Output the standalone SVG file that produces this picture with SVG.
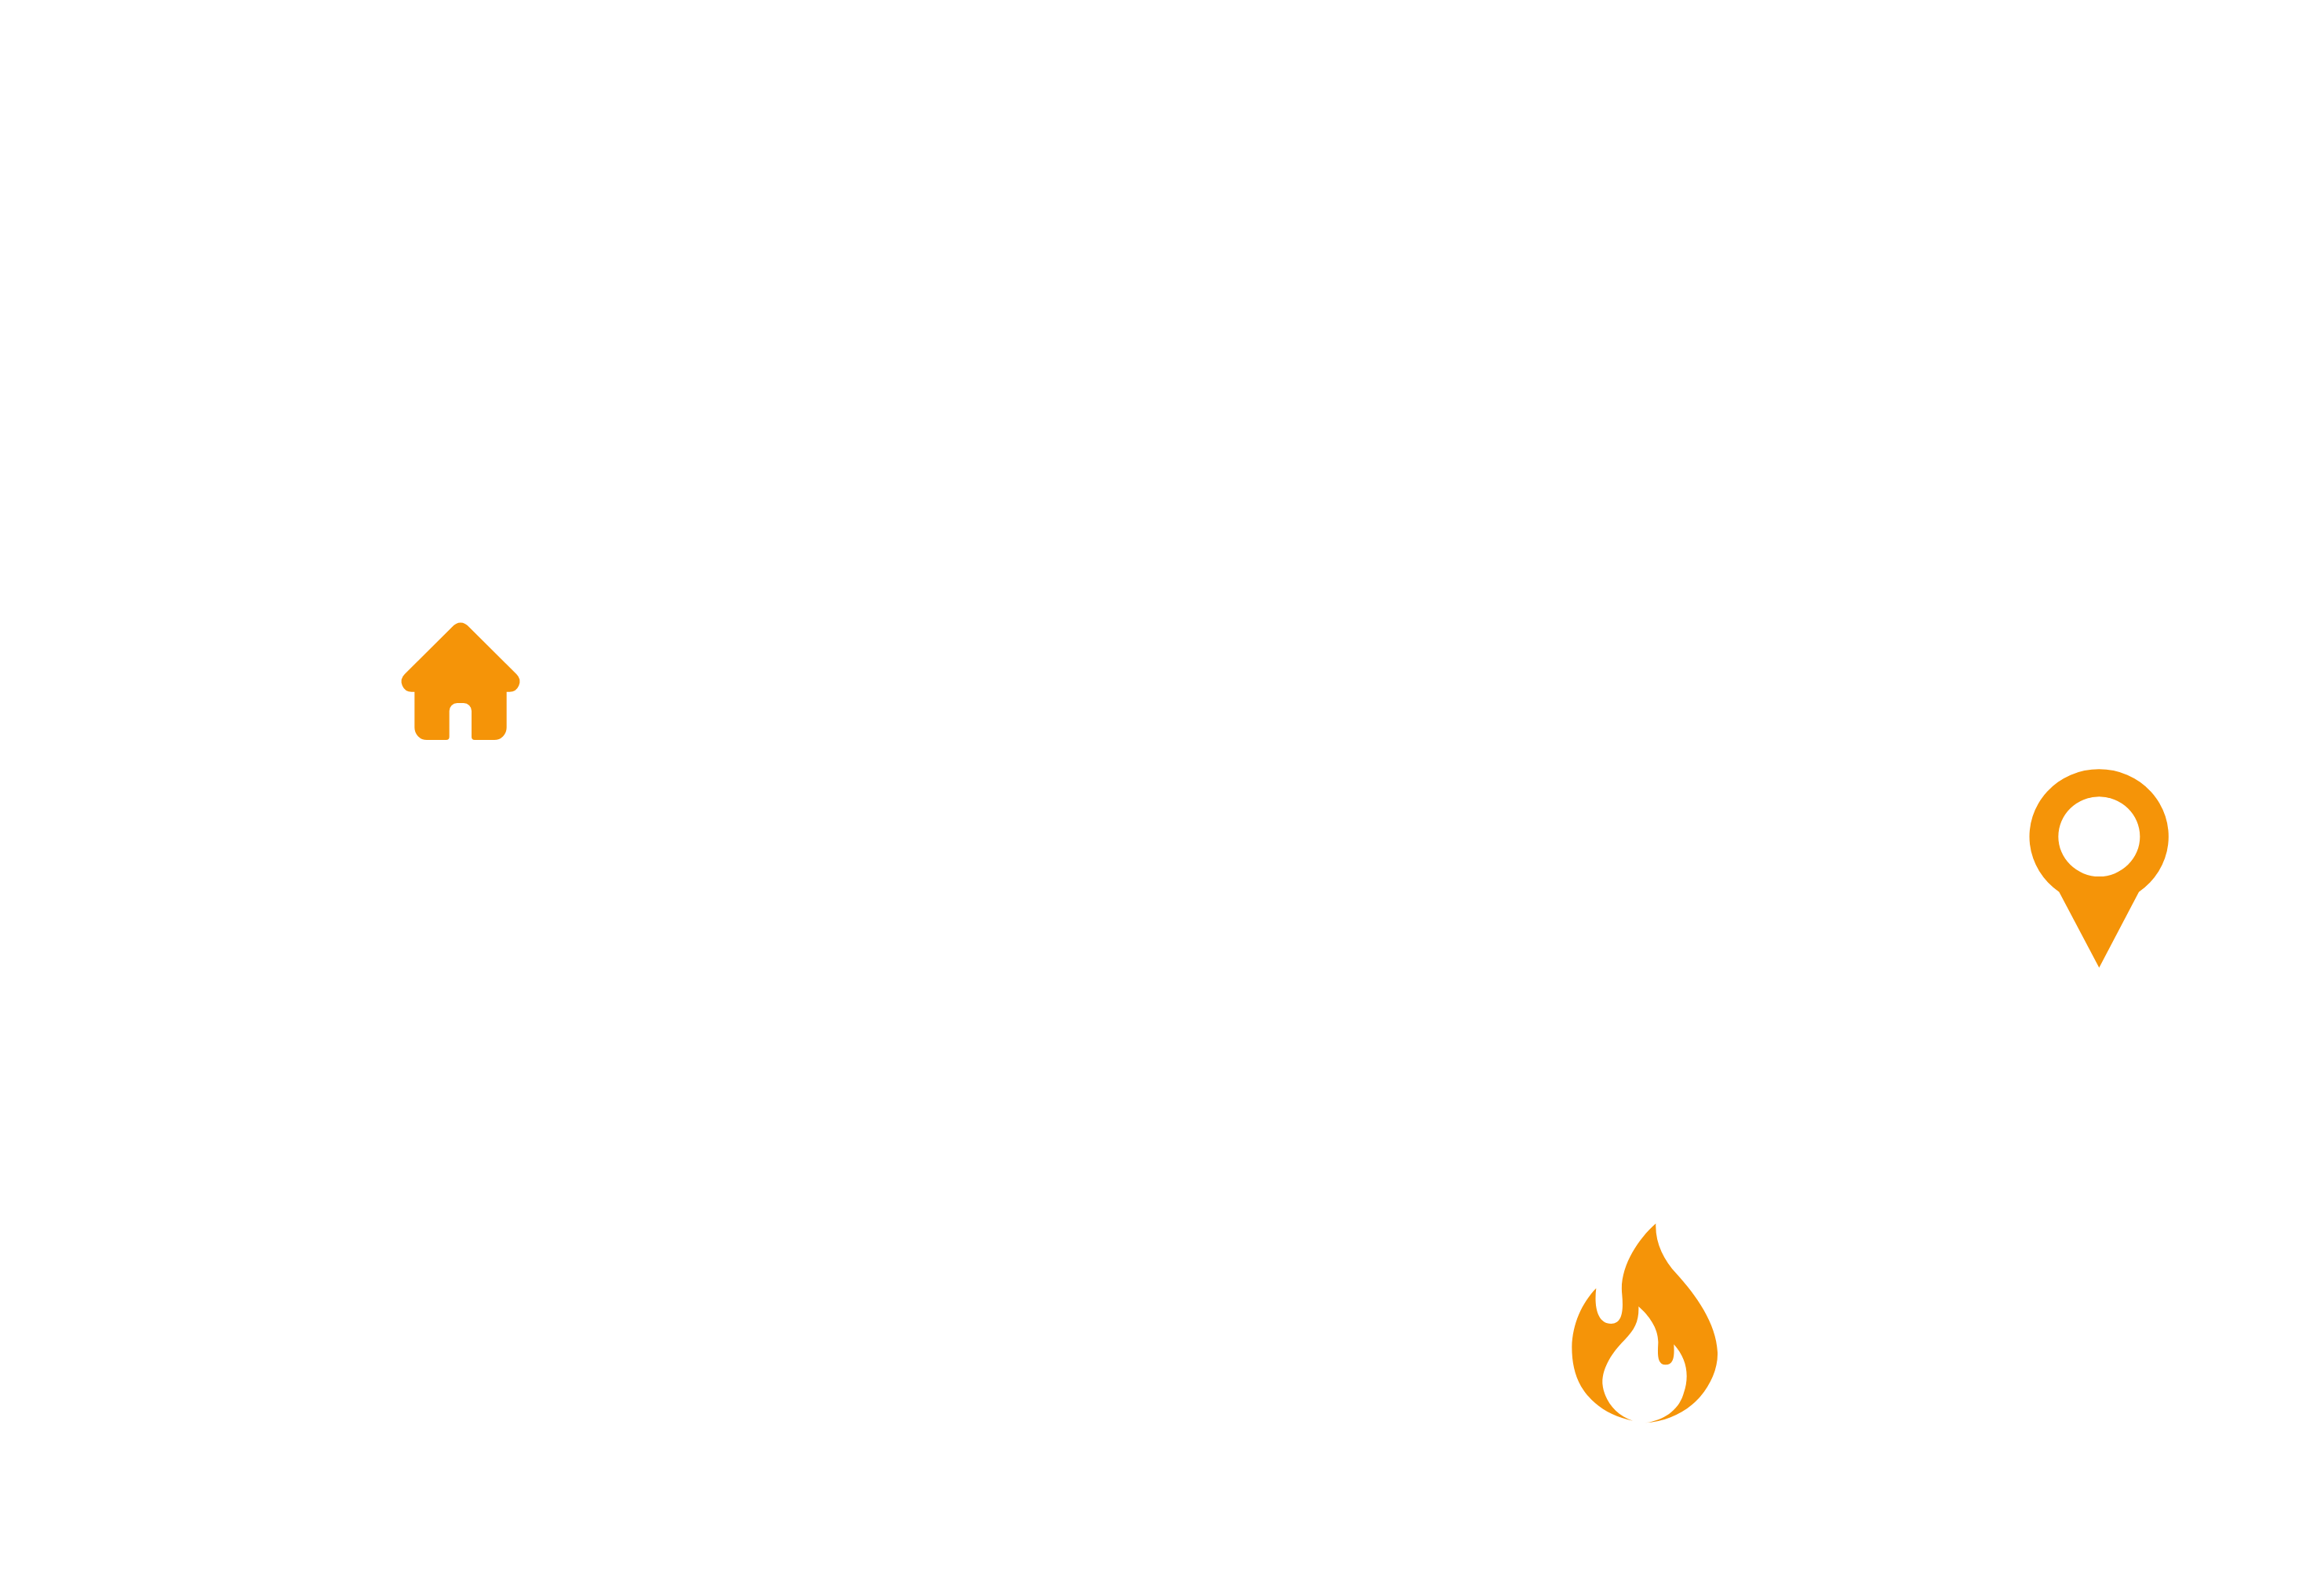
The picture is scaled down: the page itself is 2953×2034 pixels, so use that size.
<svg xmlns="http://www.w3.org/2000/svg" width="2953" height="2034" viewBox="0 0 2953 2034">
<style>.icon{fill:#f59408;fill-rule:evenodd}</style>
<rect width="2953" height="2034" fill="#ffffff"/>
<g id="connectors"></g>
<g id="home" transform="translate(490 770) scale(0.33333)">
<path class="icon" d="M258 88 C278 65 304 65 324 88 L505 268 A39 39 0 0 1 477 335 L467 335 L467 472 A47 47 0 0 1 420 519 L345 519 A12 12 0 0 1 333 507 L333 408 A30 30 0 0 0 303 378 L278 378 A30 30 0 0 0 248 408 L248 507 A12 12 0 0 1 236 519 L162 519 A47 47 0 0 1 115 472 L115 335 L105 335 A39 39 0 0 1 77 268 Z"/>
</g>
<g id="pin" transform="translate(2560 960) scale(0.33333)">
<path class="icon" d="M193 530 A266 258 0 1 1 498 530 L346 820 Z M190 318.500 A156 152.500 0 1 0 502 318.500 A156 152.500 0 1 0 190 318.500 Z"/>
</g>
<g id="flame" transform="translate(1980 1540) scale(0.33333)">
<path class="icon" d="M391 58 C388 130 420 195 470 250 C545 332 622 440 627 550 C630 620 590 700 530 750 C480 792 420 815 350 820 C425 810 480 770 498 705 C520 640 510 575 460 520 C462 560 462 598 428 598 C395 598 398 555 400 515 C402 460 365 410 325 375 C327 430 312 462 270 505 C225 550 185 610 187 670 C192 730 235 790 303 812 C220 795 150 755 105 680 C80 635 70 585 70 530 C72 440 110 360 163 305 C155 370 165 441 220 441 C265 441 267 385 262 330 C250 230 320 120 391 58 Z"/>
</g>
</svg>
